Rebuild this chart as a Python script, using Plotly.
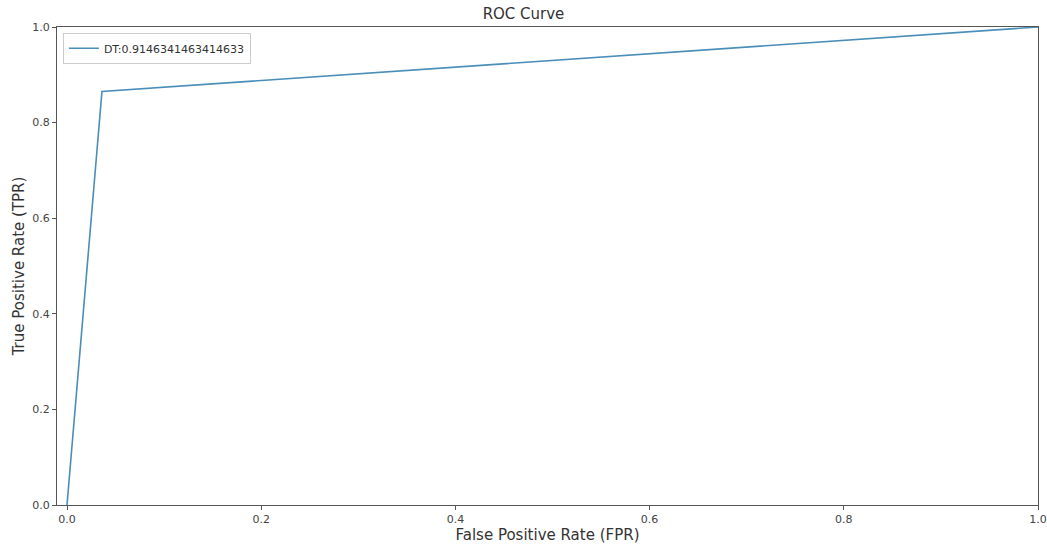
import plotly.graph_objects as go

fpr = [0.0, 0.036, 1.0]
tpr = [0.0, 0.865, 1.0]
auc_label = "DT:0.9146341463414633"
x_ticks = [0.0, 0.2, 0.4, 0.6, 0.8, 1.0]
y_ticks = [0.0, 0.2, 0.4, 0.6, 0.8, 1.0]
tick_text = ["0.0", "0.2", "0.4", "0.6", "0.8", "1.0"]

fig = go.Figure()
fig.add_trace(go.Scatter(x=fpr, y=tpr, mode="lines", name=auc_label,
                         line=dict(color="#4a8db8", width=1.6)))

axis_common = dict(showgrid=False, zeroline=False, showline=True, mirror=True,
                   linecolor="#555555", linewidth=1, ticks="outside", ticklen=4,
                   tickcolor="#555555", automargin=False,
                   tickfont=dict(family="DejaVu Sans", size=11, color="#444444"))

fig.update_layout(
    width=1047, height=546,
    margin=dict(l=57, r=9, t=27, b=41, autoexpand=False),
    plot_bgcolor="white", paper_bgcolor="white",
    title=dict(text="ROC Curve", x=0.5, xanchor="center", y=0.975, yanchor="middle",
               font=dict(family="DejaVu Sans", size=15, color="#333333")),
    xaxis=dict(range=[-0.0103, 1.0], tickvals=x_ticks, ticktext=tick_text,
               title=dict(text="False Positive Rate (FPR)", standoff=2,
                          font=dict(family="DejaVu Sans", size=15, color="#333333")),
               **axis_common),
    yaxis=dict(range=[0, 1.0], tickvals=y_ticks, ticktext=tick_text,
               title=dict(text="True Positive Rate (TPR)", standoff=4,
                          font=dict(family="DejaVu Sans", size=15, color="#333333")),
               **axis_common),
    showlegend=True,
    legend=dict(x=0.006, y=0.988, xanchor="left", yanchor="top",
                bgcolor="white", bordercolor="#cccccc", borderwidth=1,
                tracegroupgap=0, itemwidth=30,
                font=dict(family="DejaVu Sans", size=11, color="#333333")),
)

fig.write_html("out.html")
